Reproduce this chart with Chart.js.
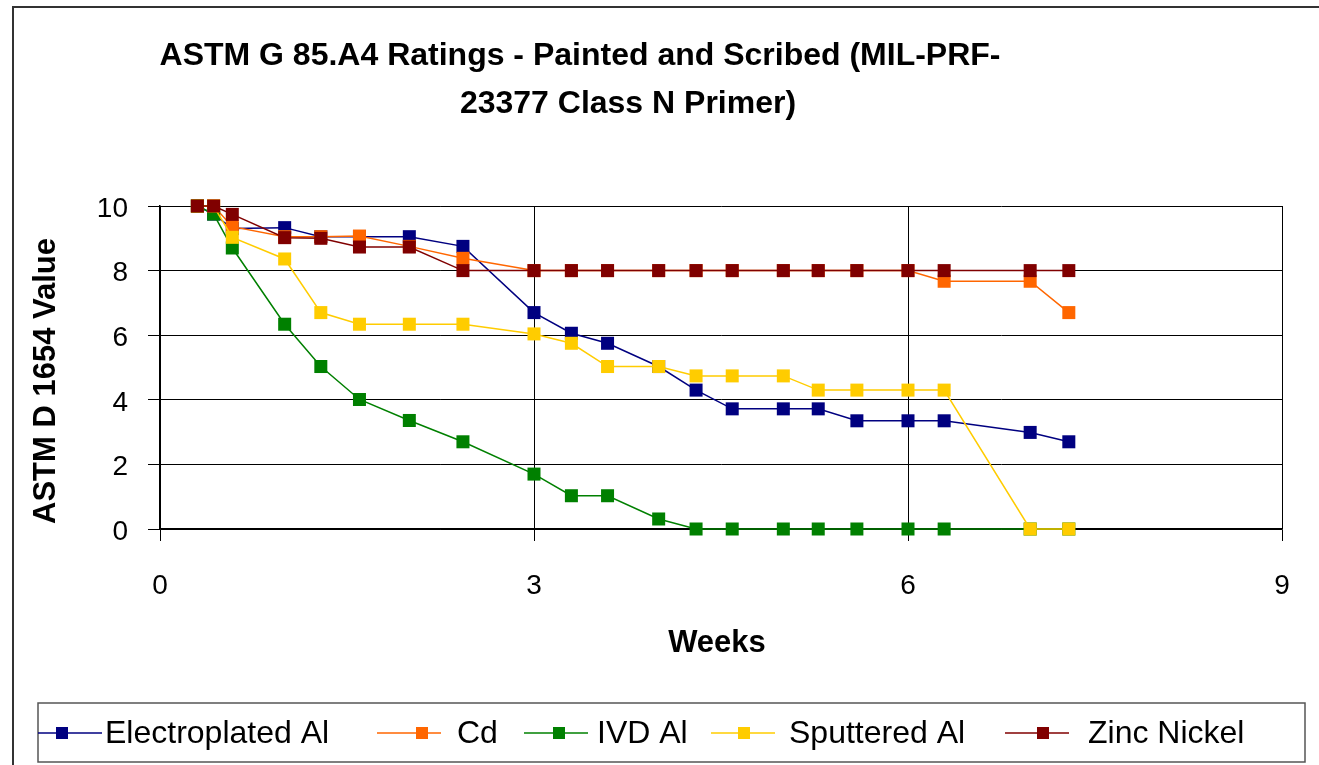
<!DOCTYPE html>
<html>
<head>
<meta charset="utf-8">
<title>ASTM G 85.A4 Ratings</title>
<script src="https://cdn.jsdelivr.net/npm/chart.js@4.4.1/dist/chart.umd.min.js"></script>
<style>
  html, body { margin: 0; padding: 0; background: #fff; }
  #wrap { position: relative; width: 1319px; height: 765px; }
</style>
</head>
<body>
<div id="wrap"><canvas id="chart"></canvas></div>
<script>
// exposure time in weeks
const weeks = [0.3, 0.43, 0.58, 1.0, 1.29, 1.6, 2.0, 2.43, 3.0, 3.3, 3.59, 4.0, 4.3, 4.59, 5.0, 5.28, 5.59, 6.0, 6.29, 6.98, 7.29];

const electroplatedAl = [10, 9.75, 9.3, 9.33, 9.05, 9.05, 9.05, 8.75, 6.7, 6.06, 5.75, 5.03, 4.3, 3.72, 3.72, 3.72, 3.35, 3.35, 3.35, 2.99, 2.7];
const cd              = [10, 10, 9.36, 9.05, 9.05, 9.07, 8.75, 8.38, 8, 8, 8, 8, 8, 8, 8, 8, 8, 8, 7.67, 7.67, 6.7];
const ivdAl           = [10, 9.75, 8.7, 6.34, 5.03, 4.01, 3.36, 2.7, 1.7, 1.03, 1.03, 0.31, 0, 0, 0, 0, 0, 0, 0, 0, 0];
const sputteredAl     = [10, 10, 9.03, 8.36, 6.7, 6.34, 6.34, 6.34, 6.04, 5.75, 5.03, 5.03, 4.74, 4.74, 4.74, 4.3, 4.3, 4.3, 4.3, 0, 0];
const zincNickel      = [10, 10, 9.74, 9.02, 9.0, 8.73, 8.73, 8, 8, 8, 8, 8, 8, 8, 8, 8, 8, 8, 8, 8, 8];

const seriesNames  = ['Electroplated Al', 'Cd', 'IVD Al', 'Sputtered Al', 'Zinc Nickel'];
const seriesValues = [electroplatedAl, cd, ivdAl, sputteredAl, zincNickel];
const seriesColors = ['#000080', '#FF6600', '#008000', '#FFCC00', '#800000'];

const xTicks = [0, 3, 6, 9];
const yTicks = [0, 2, 4, 6, 8, 10];

const titleLines = ['ASTM G 85.A4 Ratings - Painted and Scribed (MIL-PRF-', '23377 Class N Primer)'];
const xTitle = 'Weeks';
const yTitle = 'ASTM D 1654 Value';

const FONT = "'Liberation Sans', Arial, Helvetica, sans-serif";
Chart.defaults.font.family = FONT;
Chart.defaults.color = '#000';

// legend item placement: line start, marker centre, text start
const legendSlots = [
    { line: 38, marker: 62, text: 105 },
    { line: 377, marker: 422, text: 457 },
    { line: 524, marker: 559, text: 597 },
    { line: 711, marker: 744, text: 789 },
    { line: 1005, marker: 1043, text: 1088 }
];

const chartDecor = {
    id: 'chartDecor',
    beforeDraw(chart) {
        const ctx = chart.ctx;
        ctx.save();
        ctx.fillStyle = '#fff';
        ctx.fillRect(0, 0, chart.width, chart.height);
        // outer chart frame, right and bottom edges fall outside the picture
        ctx.strokeStyle = '#333';
        ctx.lineWidth = 2;
        ctx.strokeRect(13, 7, chart.width + 40, chart.height + 40);
        ctx.restore();
    },
    afterDraw(chart) {
        const ctx = chart.ctx;
        ctx.save();
        ctx.fillStyle = '#000';
        ctx.textAlign = 'center';
        ctx.textBaseline = 'middle';

        ctx.font = 'bold 32px ' + FONT;
        ctx.fillText(titleLines[0], 580, 56);
        ctx.fillText(titleLines[1], 628, 104);

        ctx.font = 'bold 31px ' + FONT;
        ctx.fillText(xTitle, 717, 643);
        ctx.save();
        ctx.translate(46, 381);
        ctx.rotate(-Math.PI / 2);
        ctx.fillText(yTitle, 0, 0);
        ctx.restore();

        // legend
        ctx.strokeStyle = '#555';
        ctx.lineWidth = 1.5;
        ctx.strokeRect(38, 703, 1267, 59);
        ctx.font = '32px ' + FONT;
        ctx.textAlign = 'left';
        const ly = 733;
        seriesNames.forEach((name, i) => {
            const s = legendSlots[i];
            ctx.strokeStyle = seriesColors[i];
            ctx.lineWidth = 1.5;
            ctx.beginPath();
            ctx.moveTo(s.line, ly);
            ctx.lineTo(s.line + 64, ly);
            ctx.stroke();
            ctx.fillStyle = seriesColors[i];
            ctx.fillRect(s.marker - 6, ly - 6, 12, 12);
            ctx.fillStyle = '#000';
            ctx.fillText(name, s.text, ly + 1);
        });
        ctx.restore();
    }
};

const datasets = seriesNames.map((name, i) => ({
    label: name,
    data: weeks.map((w, j) => ({ x: w, y: seriesValues[i][j] })),
    borderColor: seriesColors[i],
    backgroundColor: seriesColors[i],
    borderWidth: 1.5,
    pointStyle: 'rect',
    pointRadius: 9.2,
    pointBorderWidth: 0,
    tension: 0,
    clip: false,
    order: seriesNames.length - i
}));

const ctx = document.getElementById('chart').getContext('2d');
new Chart(ctx, {
    type: 'line',
    data: { datasets: datasets },
    options: {
        responsive: true,
        maintainAspectRatio: false,
        animation: false,
        layout: { padding: { left: 0, top: 206, right: 37, bottom: 0 } },
        plugins: {
            legend: { display: false },
            title: { display: false },
            tooltip: { enabled: false }
        },
        scales: {
            x: {
                type: 'linear',
                min: 0,
                max: 9,
                afterBuildTicks: scale => { scale.ticks = xTicks.map(v => ({ value: v })); },
                afterFit: scale => { scale.height = 765 - 529; },
                grid: { color: '#000', lineWidth: 1, tickLength: 12, tickColor: '#000' },
                border: { color: '#000', width: 1.5 },
                ticks: { font: { size: 28 }, padding: 28, maxRotation: 0 }
            },
            y: {
                min: 0,
                max: 10,
                afterBuildTicks: scale => { scale.ticks = yTicks.map(v => ({ value: v })); },
                afterFit: scale => { scale.width = 160; },
                grid: { color: '#000', lineWidth: 1, tickLength: 12, tickColor: '#000' },
                border: { color: '#000', width: 1.5 },
                ticks: { font: { size: 28 }, padding: 20, labelOffset: 3 }
            }
        }
    },
    plugins: [chartDecor]
});
</script>
</body>
</html>
